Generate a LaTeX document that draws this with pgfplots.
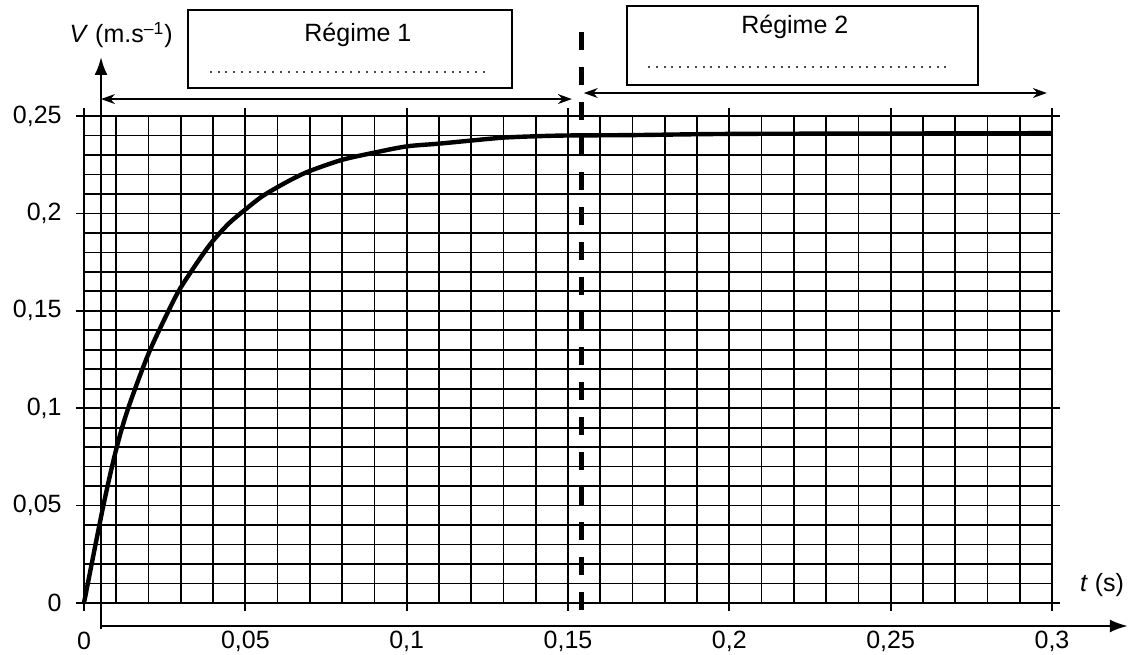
\documentclass[border=0pt]{standalone}
\usepackage{fontspec}
\setmainfont{Liberation Sans}
\usepackage{pgfplots}
\pgfplotsset{compat=1.18}
\usetikzlibrary{arrows.meta}

\newcommand{\lab}{\fontsize{12.5}{15}\selectfont}

\begin{document}
\begin{tikzpicture}
  % page = 1139 x 654 px at 0.5pt per px, origin at (t=0, V=0)
  \path[use as bounding box] (-42pt,-25.5pt) rectangle (527.5pt,301.5pt);
  \begin{axis}[%
      scale only axis,
      width=484pt, height=243.5pt,
      xmin=0, xmax=0.3, ymin=0, ymax=0.25,
      clip=false,
      xtick={0,0.05,0.1,0.15,0.2,0.25,0.3},
      ytick={0,0.05,0.1,0.15,0.2,0.25},
      minor xtick={0.01,0.02,0.03,0.04,0.06,0.07,0.08,0.09,0.11,0.12,0.13,0.14,
        0.16,0.17,0.18,0.19,0.21,0.22,0.23,0.24,0.26,0.27,0.28,0.29},
      minor ytick={0.01,0.02,0.03,0.04,0.06,0.07,0.08,0.09,0.11,0.12,0.13,0.14,
        0.16,0.17,0.18,0.19,0.21,0.22,0.23,0.24},
      grid=both,
      major grid style={black, line width=0.85pt},
      minor grid style={black, line width=0.85pt},
      axis line style={black, line width=0.85pt},
      tick style={black, line width=0.85pt},
      tick align=outside,
      major tick length=4pt, minor tick length=0pt,
      /pgf/number format/fixed,
      /pgf/number format/use comma,
      /pgf/number format/precision=2,
      /pgf/number format/assume math mode=true,
      xticklabel style={font=\lab, anchor=center, yshift=-15pt},
      yticklabel style={font=\lab, anchor=east, inner sep=0pt, xshift=-7pt},
    ]
    \addplot[black, line width=2.2pt, smooth, tension=0.5] coordinates {
      (0,0) (0.006,0.05) (0.01,0.079) (0.0137,0.10) (0.02,0.128)
      (0.0265,0.151) (0.03,0.162) (0.036,0.177) (0.04,0.186) (0.045,0.195)
      (0.05,0.202) (0.055,0.2085) (0.06,0.2135) (0.065,0.218)
      (0.07,0.2218) (0.08,0.2275) (0.09,0.2312) (0.10,0.2344) (0.11,0.2358)
      (0.12,0.2374) (0.13,0.2389) (0.14,0.2396) (0.15,0.2400) (0.17,0.2402)
      (0.20,0.2408) (0.25,0.2410) (0.30,0.2412)
    };

    % arrowed axes, drawn a little off the grid as on the sheet
    \draw[line width=1.2pt, -{Latex[length=9pt, width=6.5pt]}]
      (axis cs:0.00527,-0.0134) -- (axis cs:0.00527,0.2803);
    \draw[line width=1.2pt, -{Latex[length=9pt, width=6.5pt]}]
      (axis cs:0.00527,-0.0118) -- (axis cs:0.3235,-0.0118);
    \node[font=\lab] at (axis cs:0.0115,0.2915) {\textit{V} (m.s\textsuperscript{–1})};
    \node[font=\lab] at (axis cs:0.3155,0.0092) {\textit{t} (s)};

    % boundary between the two regimes
    \draw[line width=2.6pt, dash pattern=on 9pt off 8.5pt]
      (axis cs:0.1543,0.2931) -- (axis cs:0.1543,-0.0087);

    % extent arrows
    \draw[line width=0.7pt, {Stealth[length=7pt, width=5pt]}-{Stealth[length=7pt, width=5pt]}]
      (axis cs:0.00527,0.2587) -- (axis cs:0.1512,0.2587);
    \draw[line width=0.7pt, {Stealth[length=7pt, width=5pt]}-{Stealth[length=7pt, width=5pt]}]
      (axis cs:0.1549,0.2618) -- (axis cs:0.2984,0.2618);

    % answer boxes
    \draw[line width=0.9pt, fill=white] (axis cs:0.0322,0.2644) rectangle (axis cs:0.1326,0.3044);
    \node[font=\lab] at (axis cs:0.0849,0.2915) {Régime 1};
    \draw[black!70, line width=1pt, dash pattern=on 1pt off 2.9pt]
      (axis cs:0.0390,0.2726) -- (axis cs:0.1258,0.2726);
    \draw[line width=0.9pt, fill=white] (axis cs:0.1683,0.2659) rectangle (axis cs:0.2770,0.3065);
    \node[font=\lab] at (axis cs:0.2203,0.2955) {Régime 2};
    \draw[black!70, line width=1pt, dash pattern=on 1pt off 2.9pt]
      (axis cs:0.1748,0.2752) -- (axis cs:0.2677,0.2752);
  \end{axis}
\end{tikzpicture}
\end{document}
